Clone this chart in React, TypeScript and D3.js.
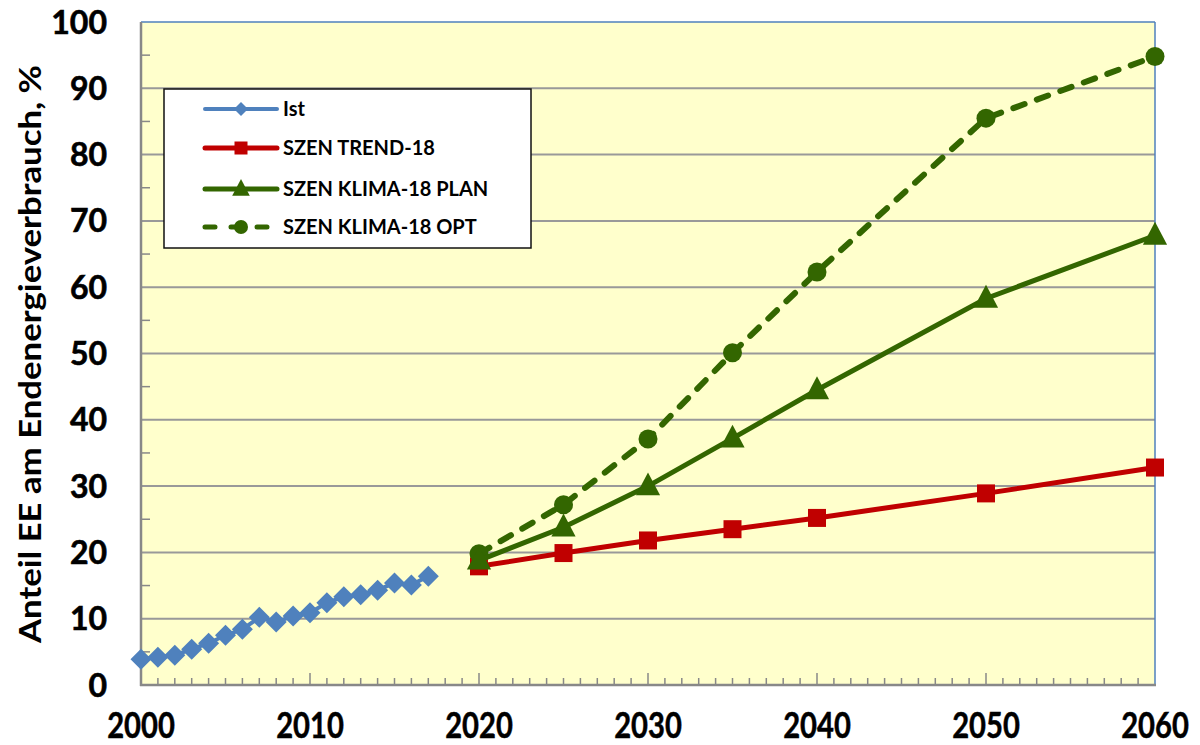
import React from "react";
import * as d3 from "d3";

const istYears = [2000, 2001, 2002, 2003, 2004, 2005, 2006, 2007, 2008, 2009, 2010, 2011, 2012, 2013, 2014, 2015, 2016, 2017];
const istValues = [3.9, 4.2, 4.5, 5.4, 6.3, 7.5, 8.4, 10.2, 9.5, 10.4, 10.9, 12.4, 13.3, 13.6, 14.3, 15.4, 15.1, 16.4];

const scenYears = [2020, 2025, 2030, 2035, 2040, 2050, 2060];
const trendValues = [17.9, 19.9, 21.8, 23.5, 25.2, 28.9, 32.8];
const planValues = [18.8, 23.8, 30.0, 37.2, 44.5, 58.3, 67.8];
const optValues = [19.8, 27.2, 37.1, 50.1, 62.3, 85.5, 94.8];

const seriesNames = ["Ist", "SZEN TREND-18", "SZEN KLIMA-18 PLAN", "SZEN KLIMA-18 OPT"];
const yTicks = [0, 10, 20, 30, 40, 50, 60, 70, 80, 90, 100];
const xTicks = [2000, 2010, 2020, 2030, 2040, 2050, 2060];
const yTitle = "Anteil EE am Endenergieverbrauch, %";

const W = 1200;
const H = 745;
const left = 141;
const right = 1155;
const top = 22;
const bottom = 685;

const BLUE = "#4F81BD";
const RED = "#C00000";
const GREEN = "#336600";
const FONT = "Lato, 'Open Sans', sans-serif";

export default function App() {
  const x = d3.scaleLinear().domain([2000, 2060]).range([left, right]);
  const y = d3.scaleLinear().domain([0, 100]).range([bottom, top]);

  const line = d3
    .line<[number, number]>()
    .x((d) => x(d[0]))
    .y((d) => y(d[1]));

  const ist: [number, number][] = istYears.map((yr, i) => [yr, istValues[i]]);
  const trend: [number, number][] = scenYears.map((yr, i) => [yr, trendValues[i]]);
  const plan: [number, number][] = scenYears.map((yr, i) => [yr, planValues[i]]);
  const opt: [number, number][] = scenYears.map((yr, i) => [yr, optValues[i]]);

  const minorX = d3.range(2001, 2060);
  const minorY = d3.range(5, 100, 10);

  const diamond = (cx: number, cy: number, r: number) =>
    `M${cx},${cy - r}L${cx + r},${cy}L${cx},${cy + r}L${cx - r},${cy}Z`;
  const tri = (cx: number, cy: number, s: number) =>
    `M${cx},${cy - s * 0.62}L${cx + s * 0.55},${cy + s * 0.42}L${cx - s * 0.55},${cy + s * 0.42}Z`;

  const legendX0 = 205;
  const legendX1 = 277;
  const legendRows = [109, 148, 189, 227];

  return (
    <svg
      width={W}
      height={H}
      style={{ position: "absolute", left: 0, top: 0, background: "#fff" }}
    >
      <rect x={left} y={top} width={right - left} height={bottom - top} fill="#FFFFCC" />

      {yTicks
        .filter((t) => t > 0 && t < 100)
        .map((t) => (
          <line key={"g" + t} x1={left} x2={right} y1={y(t)} y2={y(t)} stroke="#999" strokeWidth={2} />
        ))}

      <line x1={left} x2={right} y1={top} y2={top} stroke={BLUE} strokeWidth={1.5} />
      <line x1={right} x2={right} y1={top} y2={bottom} stroke={BLUE} strokeWidth={1.5} />

      {minorY.map((t) => (
        <line key={"my" + t} x1={left} x2={left + 9} y1={y(t)} y2={y(t)} stroke="#888" strokeWidth={1.5} />
      ))}
      {minorX.map((t) => (
        <line
          key={"mx" + t}
          x1={x(t)}
          x2={x(t)}
          y1={bottom}
          y2={bottom - (t % 10 === 0 ? 12 : 7)}
          stroke="#888"
          strokeWidth={1.5}
        />
      ))}

      <line x1={left} x2={left} y1={top} y2={bottom + 1} stroke="#888" strokeWidth={2.5} />
      <line x1={left - 1} x2={right + 1} y1={bottom} y2={bottom} stroke="#888" strokeWidth={2.5} />

      <path d={line(ist) || ""} fill="none" stroke={BLUE} strokeWidth={4} />
      {ist.map((d, i) => (
        <path key={"i" + i} d={diamond(x(d[0]), y(d[1]), 10.5)} fill={BLUE} />
      ))}

      <path d={line(trend) || ""} fill="none" stroke={RED} strokeWidth={5} />
      {trend.map((d, i) => (
        <rect key={"t" + i} x={x(d[0]) - 9} y={y(d[1]) - 9} width={18} height={18} fill={RED} />
      ))}

      <path
        d={line(opt) || ""}
        fill="none"
        stroke={GREEN}
        strokeWidth={6}
        strokeDasharray="12,13"
        strokeLinecap="round"
      />
      {opt.map((d, i) => (
        <circle key={"o" + i} cx={x(d[0])} cy={y(d[1])} r={9.5} fill={GREEN} />
      ))}

      <path d={line(plan) || ""} fill="none" stroke={GREEN} strokeWidth={5} />
      {plan.map((d, i) => (
        <path key={"p" + i} d={tri(x(d[0]), y(d[1]), 22)} fill={GREEN} />
      ))}

      <rect x={164} y={89} width={367} height={159} fill="#fff" stroke="#111" strokeWidth={1.5} />
      {legendRows.map((ly, i) => {
        const color = i === 0 ? BLUE : i === 1 ? RED : GREEN;
        const cx = (legendX0 + legendX1) / 2;
        return (
          <g key={"l" + i}>
            <line
              x1={legendX0}
              x2={legendX1}
              y1={ly}
              y2={ly}
              stroke={color}
              strokeWidth={i === 0 ? 4 : 5}
              strokeLinecap="round"
              strokeDasharray={i === 3 ? "10,16" : undefined}
            />
            {i === 0 && <path d={diamond(cx, ly, 7)} fill={color} />}
            {i === 1 && <rect x={cx - 6.5} y={ly - 6.5} width={13} height={13} fill={color} />}
            {i === 2 && <path d={tri(cx, ly, 16)} fill={color} />}
            {i === 3 && <circle cx={cx} cy={ly} r={7} fill={color} />}
            <text
              x={283}
              y={ly}
              dy="0.36em"
              fontFamily={FONT}
              fontWeight={700}
              fontSize={20}
              fill="#000"
            >
              {seriesNames[i]}
            </text>
          </g>
        );
      })}

      {yTicks.map((t) => (
        <text
          key={"yl" + t}
          x={107}
          y={y(t)}
          dy="0.36em"
          textAnchor="end"
          fontFamily={FONT}
          fontWeight={700}
          fontSize={32}
          stroke="#000"
          strokeWidth={0.6}
          fill="#000"
        >
          {t}
        </text>
      ))}

      {xTicks.map((t) => (
        <text
          key={"xl" + t}
          transform={`translate(${x(t)},738) scale(0.81,1)`}
          textAnchor="middle"
          fontFamily={FONT}
          fontWeight={700}
          fontSize={36}
          stroke="#000"
          strokeWidth={0.5}
          fill="#000"
        >
          {t}
        </text>
      ))}

      <text
        transform={`translate(30,354) rotate(-90)`}
        textAnchor="middle"
        dy="0.36em"
        fontFamily={FONT}
        fontWeight={700}
        fontSize={30}
        textLength={578}
        lengthAdjust="spacingAndGlyphs"
        fill="#000"
      >
        {yTitle}
      </text>
    </svg>
  );
}
